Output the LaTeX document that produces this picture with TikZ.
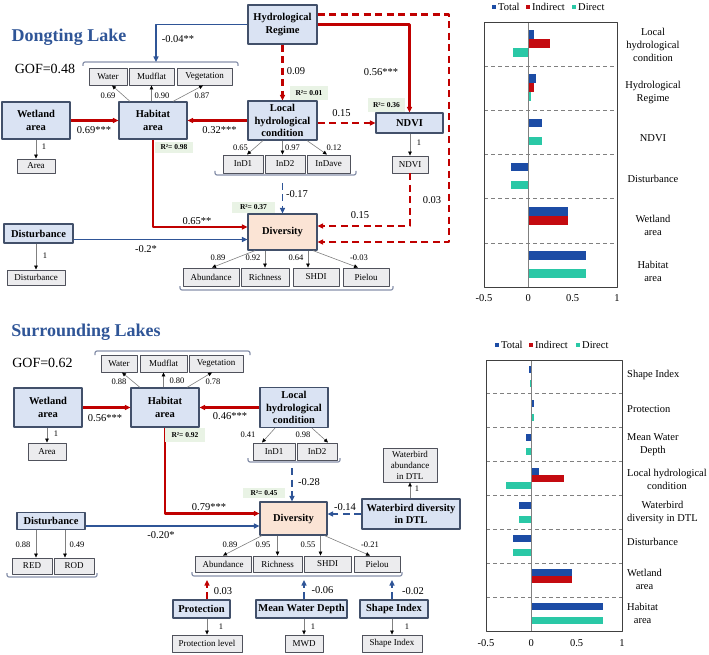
\documentclass[tikz,border=0pt]{standalone}
\usepackage{fontspec}
\setmainfont{Liberation Serif}
\usetikzlibrary{arrows.meta}
\definecolor{latfill}{RGB}{218,227,243}
\definecolor{latline}{RGB}{66,80,106}
\definecolor{divfill}{RGB}{251,228,213}
\definecolor{obsfill}{RGB}{236,236,238}
\definecolor{obsline}{RGB}{80,82,92}
\definecolor{posred}{RGB}{192,0,0}
\definecolor{negblue}{RGB}{47,85,151}
\definecolor{rsqfill}{RGB}{233,243,229}
\definecolor{brkgray}{RGB}{135,145,170}
\definecolor{barT}{RGB}{28,76,165}
\definecolor{barI}{RGB}{196,10,16}
\definecolor{barD}{RGB}{42,200,166}
\newcommand{\fsz}[2]{\fontsize{#1}{#2}\selectfont}
\begin{document}
\begin{tikzpicture}[x=1pt, y=-1pt, line join=round, >={Triangle[length=5.5pt,width=5pt]},
		lat/.style={draw=latline, fill=latfill, line width=1.2pt, inner sep=0pt, align=center, font=\bfseries\fsz{10.5}{12.5}},
		resp/.style={lat, fill=divfill},
		obs/.style={draw=obsline, fill=obsfill, line width=0.9pt, inner sep=0pt, align=center, font=\fsz{9}{11}},
		sz/.style 2 args={minimum width=#1pt, minimum height=#2pt},
		redpath/.style={->, draw=posred, line width=2.2pt},
		bluepath/.style={->, draw=negblue, line width=1.6pt},
		redpathd/.style={redpath, dash pattern=on 7pt off 4.5pt},
		bluepathd/.style={bluepath, line width=1.8pt, dash pattern=on 7pt off 4.5pt},
		load/.style={draw=gray, line width=0.6pt, -{Triangle[length=4pt,width=3.6pt,color=black]}},
		brk/.style={draw=brkgray, line width=1.2pt, rounded corners=2pt},
		coef/.style={font=\fsz{10.5}{12}, inner sep=0pt},
		ld/.style={font=\fsz{8.5}{10}, inner sep=0pt},
		rsq/.style={fill=rsqfill, inner sep=0pt, font=\bfseries\fsz{7.5}{9}},
		ttl/.style={text=negblue, font=\bfseries\fsz{18}{20}, inner sep=0pt},
		gof/.style={font=\fsz{14}{16}, inner sep=0pt},
		sepline/.style={draw=gray, line width=0.9pt, dash pattern=on 4pt off 3pt},
		catlab/.style={align=center, font=\fsz{10.5}{13}, inner sep=0pt},
		ticklab/.style={font=\fsz{10.5}{12}, inner sep=0pt}]
	\useasboundingbox (0,0) rectangle (709,655);
	\node[ttl] (titleD) at (69,37) {Dongting Lake};
	\node[gof] (gofD) at (45,69) {GOF=0.48};
	\node[lat, sz={69}{39}] (hydT) at (282.5,24.5) {Hydrological\\Regime};
	\node[lat, sz={68}{37}] (wetT) at (36,120.5) {Wetland\\area};
	\node[lat, sz={68}{37}] (habT) at (153,120.5) {Habitat\\area};
	\node[lat, sz={69}{39}] (lhcT) at (282.5,120.5) {Local\\hydrological\\condition};
	\node[lat, sz={67}{20}] (ndviT) at (409.5,123) {NDVI};
	\node[resp, sz={69}{36}] (divT) at (282.5,232) {Diversity};
	\node[lat, sz={69}{19}] (disT) at (38.5,233.5) {Disturbance};
	\node[obs, sz={38}{17}] (waterT) at (108,76.5) {Water};
	\node[obs, sz={45}{17}] (mudT) at (151.5,76.5) {Mudflat};
	\node[obs, sz={55}{17}] (vegT) at (204.5,76.5) {Vegetation};
	\node[obs, sz={38}{14}] (areaT) at (36,166) {Area};
	\node[obs, sz={40}{18}] (ind1T) at (243,164) {InD1};
	\node[obs, sz={40}{18}] (ind2T) at (285,164) {InD2};
	\node[obs, sz={43}{18}] (indaveT) at (328.5,164) {InDave};
	\node[obs, sz={36}{17}] (ndviiT) at (410,164.5) {NDVI};
	\node[obs, sz={58}{15}] (disiT) at (36,277.5) {Disturbance};
	\node[obs, sz={56}{18}] (abuT) at (211,277) {Abundance};
	\node[obs, sz={48}{18}] (ricT) at (265,277) {Richness};
	\node[obs, sz={46}{18}] (shdiT) at (316,277) {SHDI};
	\node[obs, sz={46}{18}] (pieT) at (366,277) {Pielou};
	\draw[brk] (83,66) -- (83,62) -- (238,62) -- (238,66);
	\draw[brk] (215,171) -- (215,175) -- (356,175) -- (356,171);
	\draw[brk] (180,286) -- (180,290) -- (393,290) -- (393,286);
	\coordinate (hbrT) at (156,62);
	\coordinate (hdT) at (449,242);
	\coordinate (lbrT) at (282.5,183);
	\draw[bluepath] (hydT.west) -| (hbrT);
	\draw[redpath] (hydT.east) -| (ndviT.north);
	\draw[redpathd] ([yshift=10pt]hydT.east) -| (hdT) -- (hdT -| divT.east);
	\draw[redpathd] (hydT.south) -- (lhcT.north);
	\draw[redpath] (wetT) -- (habT);
	\draw[redpath] (lhcT) -- (habT);
	\draw[redpathd] (lhcT.east |- ndviT.west) -- (ndviT.west);
	\draw[redpath] (habT.south) |- ([yshift=5pt]divT.west);
	\draw[bluepath] ([yshift=-6pt]disT.east) -- ([yshift=-6pt]disT.east -| divT.west);
	\draw[redpathd] (ndviiT.south) |- ([yshift=6pt]divT.east);
	\draw[bluepathd] (lbrT) -- (lbrT |- divT.north);
	\draw[load] ([xshift=-23pt]habT.north) -- ([xshift=4pt]waterT.south);
	\draw[load] (habT.north -| mudT) -- (mudT.south);
	\draw[load] ([xshift=20pt]habT.north) -- ([xshift=-1.5pt]vegT.south);
	\draw[load] (wetT.south) -- (areaT.north);
	\draw[load] ([xshift=-19.5pt]lhcT.south) -- ([xshift=4pt]ind1T.north);
	\draw[load] (lhcT.south) -- (lhcT.south |- ind2T.north);
	\draw[load] ([xshift=24.5pt]lhcT.south) -- ([xshift=-1.5pt]indaveT.north);
	\draw[load] (ndviT.south -| ndviiT) -- (ndviiT.north);
	\draw[load] (disT.south -| disiT) -- (disiT.north);
	\draw[load] ([xshift=-27.5pt]divT.south) -- ([xshift=1pt]abuT.north);
	\draw[load] (divT.south -| ricT) -- (ricT.north);
	\draw[load] ([xshift=25.5pt]divT.south) -- ([xshift=-8pt]shdiT.north);
	\draw[load] ([xshift=30.5pt]divT.south) -- ([xshift=-8pt]pieT.north);
	\node[coef] (kT1) at (178,39) {-0.04**};
	\node[coef] (kT2) at (296,71) {0.09};
	\node[coef] (kT3) at (381,72) {0.56***};
	\node[coef] (kT4) at (94,130) {0.69***};
	\node[coef] (kT5) at (219.5,130) {0.32***};
	\node[coef] (kT6) at (341.5,113) {0.15};
	\node[coef] (kT7) at (297,194) {-0.17};
	\node[coef] (kT8) at (197,221) {0.65**};
	\node[coef] (kT9) at (360,215) {0.15};
	\node[coef] (kT10) at (432,200) {0.03};
	\node[coef] (kT11) at (146,249) {-0.2*};
	\node[ld] (lT1) at (108,96) {0.69};
	\node[ld] (lT2) at (162,96) {0.90};
	\node[ld] (lT3) at (202,96) {0.87};
	\node[ld] (lT4) at (44,147) {1};
	\node[ld] (lT5) at (240.5,148) {0.65};
	\node[ld] (lT6) at (292.5,148) {0.97};
	\node[ld] (lT7) at (334,148) {0.12};
	\node[ld] (lT8) at (419,143) {1};
	\node[ld] (lT9) at (45,256) {1};
	\node[ld] (lT10) at (218,258) {0.89};
	\node[ld] (lT11) at (253,258) {0.92};
	\node[ld] (lT12) at (296,258) {0.64};
	\node[ld] (lT13) at (359,258) {-0.03};
	\node[rsq, sz={38}{11}] (rT1) at (174,147.5) {R²= 0.98};
	\node[rsq, sz={38}{14}] (rT2) at (309,93) {R²= 0.01};
	\node[rsq, sz={37}{14}] (rT3) at (386.5,105) {R²= 0.36};
	\node[rsq, sz={43}{11}] (rT4) at (253.5,207.5) {R²= 0.37};
	\node[ttl] (titleS) at (86,332) {Surrounding Lakes};
	\node[gof] (gofS) at (42.5,363) {GOF=0.62};
	\node[lat, sz={68}{39}] (wetB) at (48,407.5) {Wetland\\area};
	\node[lat, sz={68}{39}] (habB) at (165,407.5) {Habitat\\area};
	\node[lat, sz={68}{40}] (lhcB) at (294,407.5) {Local\\hydrological\\condition};
	\node[resp, sz={67}{33}] (divB) at (293.5,518.5) {Diversity};
	\node[lat, sz={68}{17}] (disB) at (51,521) {Disturbance};
	\node[lat, sz={98}{30}] (wbdB) at (411,514) {Waterbird diversity\\in DTL};
	\node[obs, sz={54}{34}] (wbaB) at (410,465) {Waterbird\\abundance\\in DTL};
	\node[lat, sz={57}{18}] (protB) at (201.5,609) {Protection};
	\node[lat, sz={91}{18}] (mwdB) at (301.5,609) {Mean Water Depth};
	\node[lat, sz={68}{18}] (shpB) at (394,609) {Shape Index};
	\node[obs, sz={36}{17}] (waterB) at (119,363.5) {Water};
	\node[obs, sz={47}{17}] (mudB) at (163.5,363.5) {Mudflat};
	\node[obs, sz={54}{17}] (vegB) at (216,363.5) {Vegetation};
	\node[obs, sz={38}{17}] (areaB) at (47,451.5) {Area};
	\node[obs, sz={42}{17}] (ind1B) at (274,451.5) {InD1};
	\node[obs, sz={40}{17}] (ind2B) at (317,451.5) {InD2};
	\node[obs, sz={40}{16}] (redB) at (32,566) {RED};
	\node[obs, sz={40}{16}] (rodB) at (74,566) {ROD};
	\node[obs, sz={56}{16}] (abuB) at (223,564) {Abundance};
	\node[obs, sz={49}{16}] (ricB) at (277.5,564) {Richness};
	\node[obs, sz={47}{16}] (shdiB) at (327.5,564) {SHDI};
	\node[obs, sz={46}{16}] (pieB) at (377,564) {Pielou};
	\node[obs, sz={70}{17}] (protlB) at (207,643.5) {Protection level};
	\node[obs, sz={38}{17}] (mwdiB) at (304,643.5) {MWD};
	\node[obs, sz={60}{17}] (shpiB) at (392,643.5) {Shape Index};
	\draw[brk] (95,355) -- (95,351) -- (250,351) -- (250,355);
	\draw[brk] (248,458) -- (248,462) -- (340,462) -- (340,458);
	\draw[brk] (7,573) -- (7,577) -- (97,577) -- (97,573);
	\draw[brk] (192,572) -- (192,576) -- (402,576) -- (402,572);
	\coordinate (lbrB) at (292,468);
	\coordinate (pbrB) at (207,580);
	\coordinate (mbrB) at (304,580);
	\coordinate (sbrB) at (392,580);
	\draw[redpath] (wetB) -- (habB);
	\draw[redpath] (lhcB) -- (habB);
	\draw[redpath] (habB.south) |- ([yshift=5pt]divB.west);
	\draw[bluepath] ([yshift=-5pt]disB.east) -- ([yshift=-5pt]disB.east -| divB.west);
	\draw[bluepathd] (lbrB) -- (lbrB |- divB.north);
	\draw[bluepathd] (wbdB.west) -- (wbdB.west -| divB.east);
	\draw[redpathd] (protB.north -| pbrB) -- (pbrB);
	\draw[bluepathd] (mwdB.north -| mbrB) -- (mbrB);
	\draw[bluepathd] (shpB.north -| sbrB) -- (sbrB);
	\draw[load] ([xshift=-25pt]habB.north) -- ([xshift=3pt]waterB.south);
	\draw[load] (habB.north -| mudB) -- (mudB.south);
	\draw[load] ([xshift=22pt]habB.north) -- ([xshift=-4pt]vegB.south);
	\draw[load] (wetB.south -| areaB) -- (areaB.north);
	\draw[load] ([xshift=-19pt]lhcB.south) -- ([xshift=-12pt]ind1B.north);
	\draw[load] ([xshift=18pt]lhcB.south) -- ([xshift=11pt]ind2B.north);
	\draw[load] (wbdB.north -| wbaB) -- (wbaB.south);
	\draw[load] ([xshift=-15pt]disB.south) -- ([xshift=4pt]redB.north);
	\draw[load] ([xshift=14pt]disB.south) -- ([xshift=-9pt]rodB.north);
	\draw[load] ([xshift=-31.5pt]divB.south) -- (abuB.north);
	\draw[load] (divB.south -| ricB) -- (ricB.north);
	\draw[load] ([xshift=27pt]divB.south) -- ([xshift=-7pt]shdiB.north);
	\draw[load] ([xshift=31pt]divB.south) -- ([xshift=-7pt]pieB.north);
	\draw[load] (protB.south -| protlB) -- (protlB.north);
	\draw[load] (mwdB.south -| mwdiB) -- (mwdiB.north);
	\draw[load] (shpB.south -| shpiB) -- (shpiB.north);
	\node[coef] (kB1) at (105,418) {0.56***};
	\node[coef] (kB2) at (230,416) {0.46***};
	\node[coef] (kB3) at (309,482) {-0.28};
	\node[coef] (kB4) at (345,507) {-0.14};
	\node[coef] (kB5) at (209,507) {0.79***};
	\node[coef] (kB6) at (161,535) {-0.20*};
	\node[coef] (kB7) at (223,591) {0.03};
	\node[coef] (kB8) at (322.5,590) {-0.06};
	\node[coef] (kB9) at (413,591) {-0.02};
	\node[ld] (lB1) at (119,382) {0.88};
	\node[ld] (lB2) at (177,381) {0.80};
	\node[ld] (lB3) at (213,382) {0.78};
	\node[ld] (lB4) at (56,434) {1};
	\node[ld] (lB5) at (248,435) {0.41};
	\node[ld] (lB6) at (303,435) {0.98};
	\node[ld] (lB7) at (417,489) {1};
	\node[ld] (lB8) at (23,545) {0.88};
	\node[ld] (lB9) at (77,545) {0.49};
	\node[ld] (lB10) at (230,545) {0.89};
	\node[ld] (lB11) at (263,545) {0.95};
	\node[ld] (lB12) at (308,545) {0.55};
	\node[ld] (lB13) at (370,545) {-0.21};
	\node[ld] (lB14) at (221,627) {1};
	\node[ld] (lB15) at (313,627) {1};
	\node[ld] (lB16) at (407,627) {1};
	\node[rsq, sz={40}{14}] (rB1) at (185,435) {R²= 0.92};
	\node[rsq, sz={42}{10}] (rB2) at (264,493) {R²= 0.45};
	\def\zT{528.3}\def\sT{88.7}
	\foreach \c/\k/\v/\col in {0/-1/0.06/barT, 0/0/0.24/barI, 0/1/-0.17/barD, 1/-1/0.09/barT, 1/0/0.06/barI, 1/1/0.03/barD, 2/-1/0.15/barT, 2/1/0.15/barD, 3/-1/-0.2/barT, 3/1/-0.2/barD, 4/-1/0.45/barT, 4/0/0.45/barI, 5/-1/0.65/barT, 5/1/0.65/barD}
		\fill[\col] (\zT,{22+44.2*(\c+0.5)-0.5+9*\k-4.3}) rectangle ({\zT+\sT*\v},{22+44.2*(\c+0.5)-0.5+9*\k+4.3});
	\foreach \i in {1,...,5}
		\draw[sepline] (484,{22+44.2*\i}) -- (617,{22+44.2*\i});
	\draw[gray, line width=0.9pt] (\zT,22) -- (\zT,287);
	\draw[black!75, line width=0.8pt] (484,22) rectangle (617,287);
	\foreach \v [count=\i] in {-0.5,0,0.5,1}
		\node[ticklab] (tkT\i) at ({\zT+\sT*\v},298) {\v};
	\foreach \t/\y [count=\i] in {{Local\\hydrological\\condition}/44.5, {Hydrological\\Regime}/92.5, NDVI/138, Disturbance/179, {Wetland\\area}/225.5, {Habitat\\area}/271.5}
		\node[catlab] (catT\i) at (653,\y) {\t};
	\fill[barT] (492,5) rectangle (496,9);
	\node[ticklab, anchor=west] (lgT1) at (498,7) {Total};
	\fill[barI] (526,5) rectangle (530,9);
	\node[ticklab, anchor=west] (lgT2) at (532,7) {Indirect};
	\fill[barD] (572,5) rectangle (576,9);
	\node[ticklab, anchor=west] (lgT3) at (578,7) {Direct};
	\def\zB{531.3}\def\sB{90.7}
	\foreach \c/\k/\v/\col in {0/-1/-0.02/barT, 0/1/-0.01/barD, 1/-1/0.03/barT, 1/1/0.03/barD, 2/-1/-0.06/barT, 2/1/-0.06/barD, 3/-1/0.08/barT, 3/0/0.36/barI, 3/1/-0.28/barD, 4/-1/-0.14/barT, 4/1/-0.14/barD, 5/-1/-0.2/barT, 5/1/-0.2/barD, 6/-1/0.45/barT, 6/0/0.45/barI, 7/-1/0.79/barT, 7/1/0.79/barD}
		\fill[\col] (\zB,{360+33.9*(\c+0.5)-0.5+7*\k-3.5}) rectangle ({\zB+\sB*\v},{360+33.9*(\c+0.5)-0.5+7*\k+3.5});
	\foreach \i in {1,...,7}
		\draw[sepline] (486,{360+33.9*\i}) -- (622,{360+33.9*\i});
	\draw[gray, line width=0.9pt] (\zB,360) -- (\zB,631);
	\draw[black!75, line width=0.8pt] (486,360) rectangle (622,631);
	\foreach \v [count=\i] in {-0.5,0,0.5,1}
		\node[ticklab] (tkB\i) at ({\zB+\sB*\v},643) {\v};
	\foreach \t/\y [count=\i] in {{Shape Index}/375, Protection/409, {Mean Water\\Depth}/445, {Local hydrological\\condition}/479, {Waterbird\\diversity in DTL}/512.5, Disturbance/542, {Wetland\\area}/579, {Habitat\\area}/613}
		\node[catlab, anchor=west] (catB\i) at (627,\y) {\t};
	\fill[barT] (495,343) rectangle (499,347);
	\node[ticklab, anchor=west] (lgB1) at (501,345) {Total};
	\fill[barI] (529,343) rectangle (533,347);
	\node[ticklab, anchor=west] (lgB2) at (535,345) {Indirect};
	\fill[barD] (576,343) rectangle (580,347);
	\node[ticklab, anchor=west] (lgB3) at (582,345) {Direct};
\end{tikzpicture}
\end{document}
